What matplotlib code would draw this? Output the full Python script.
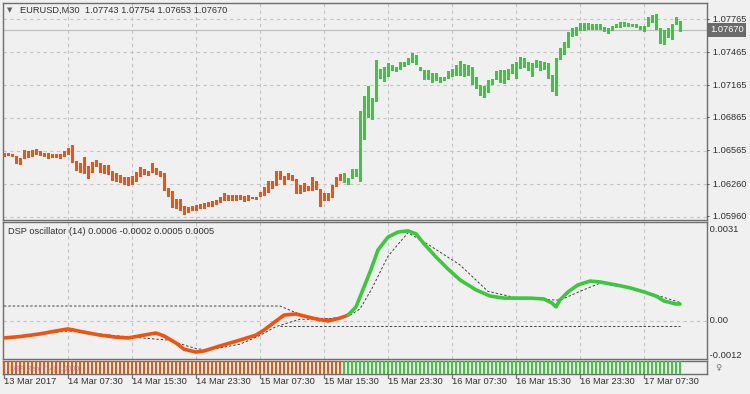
import matplotlib.pyplot as plt
import numpy as np

# EURUSD M30 bars, top/bottom of each painted bar (price)
bar_top = [1.06541, 1.06547, 1.06535, 1.06517, 1.06498, 1.06571, 1.06559, 1.06571, 1.06581, 1.06559,
           1.06547, 1.06541, 1.06535, 1.06535, 1.06535, 1.06565, 1.06590, 1.06617, 1.06471, 1.06450,
           1.06505, 1.06426, 1.06462, 1.06480, 1.06450, 1.06432, 1.06438, 1.06377, 1.06365, 1.06347,
           1.06328, 1.06322, 1.06334, 1.06371, 1.06413, 1.06395, 1.06383, 1.06456, 1.06407, 1.06377,
           1.06359, 1.06225, 1.06195, 1.06122, 1.06122, 1.06061, 1.06055, 1.06061, 1.06073, 1.06079,
           1.06091, 1.06097, 1.06110, 1.06116, 1.06140, 1.06176, 1.06158, 1.06158, 1.06158, 1.06158,
           1.06152, 1.06158, 1.06146, 1.06146, 1.06189, 1.06237, 1.06292, 1.06292, 1.06377, 1.06377,
           1.06334, 1.06359, 1.06347, 1.06304, 1.06255, 1.06268, 1.06243, 1.06322, 1.06286, 1.06219,
           1.06176, 1.06182, 1.06249, 1.06328, 1.06353, 1.06362, 1.06316, 1.06398, 1.06398, 1.06928,
           1.07065, 1.07156, 1.07046, 1.07393, 1.07311, 1.07329, 1.07366, 1.07348, 1.07329, 1.07375,
           1.07375, 1.07411, 1.07457, 1.07439, 1.07329, 1.07302, 1.07302, 1.07275, 1.07275, 1.07238,
           1.07238, 1.07293, 1.07311, 1.07348, 1.07384, 1.07357, 1.07348, 1.07329, 1.07238, 1.07165,
           1.07156, 1.07211, 1.07220, 1.07293, 1.07302, 1.07302, 1.07311, 1.07357, 1.07375, 1.07421,
           1.07411, 1.07375, 1.07366, 1.07393, 1.07384, 1.07375, 1.07366, 1.07256, 1.07411, 1.07503,
           1.07558, 1.07649, 1.07685, 1.07694, 1.07731, 1.07731, 1.07731, 1.07722, 1.07722, 1.07722,
           1.07694, 1.07685, 1.07704, 1.07722, 1.07740, 1.07740, 1.07731, 1.07722, 1.07722, 1.07704,
           1.07704, 1.07786, 1.07804, 1.07813, 1.07685, 1.07667, 1.07685, 1.07722, 1.07786, 1.07749]
bar_bot = [1.06511, 1.06517, 1.06505, 1.06444, 1.06438, 1.06492, 1.06498, 1.06505, 1.06523, 1.06517,
           1.06511, 1.06486, 1.06498, 1.06498, 1.06492, 1.06511, 1.06529, 1.06456, 1.06383, 1.06359,
           1.06353, 1.06310, 1.06365, 1.06413, 1.06365, 1.06353, 1.06341, 1.06292, 1.06280, 1.06274,
           1.06249, 1.06243, 1.06255, 1.06280, 1.06328, 1.06341, 1.06334, 1.06359, 1.06347, 1.06322,
           1.06195, 1.06146, 1.06043, 1.06030, 1.06012, 1.05982, 1.06000, 1.06012, 1.06018, 1.06030,
           1.06037, 1.06049, 1.06055, 1.06067, 1.06085, 1.06103, 1.06103, 1.06110, 1.06110, 1.06116,
           1.06097, 1.06110, 1.06122, 1.06116, 1.06140, 1.06152, 1.06182, 1.06213, 1.06243, 1.06298,
           1.06255, 1.06298, 1.06292, 1.06170, 1.06170, 1.06189, 1.06195, 1.06201, 1.06207, 1.06055,
           1.06110, 1.06110, 1.06134, 1.06231, 1.06292, 1.06270, 1.06252, 1.06307, 1.06325, 1.06279,
           1.06663, 1.06864, 1.06845, 1.07010, 1.07220, 1.07192, 1.07238, 1.07293, 1.07284, 1.07302,
           1.07329, 1.07348, 1.07366, 1.07348, 1.07293, 1.07211, 1.07211, 1.07183, 1.07201, 1.07183,
           1.07201, 1.07220, 1.07238, 1.07247, 1.07247, 1.07238, 1.07247, 1.07165, 1.07128, 1.07065,
           1.07046, 1.07092, 1.07165, 1.07211, 1.07183, 1.07174, 1.07211, 1.07265, 1.07220, 1.07311,
           1.07320, 1.07293, 1.07238, 1.07320, 1.07293, 1.07302, 1.07220, 1.07101, 1.07065, 1.07393,
           1.07439, 1.07503, 1.07603, 1.07612, 1.07658, 1.07658, 1.07667, 1.07667, 1.07667, 1.07667,
           1.07649, 1.07631, 1.07658, 1.07685, 1.07685, 1.07694, 1.07694, 1.07694, 1.07685, 1.07667,
           1.07649, 1.07694, 1.07731, 1.07667, 1.07539, 1.07530, 1.07594, 1.07576, 1.07713, 1.07649]
n_down = 85  # first bars drawn in the "down" colour

price_ticks = [1.07765, 1.07465, 1.07165, 1.06865, 1.06565, 1.06260, 1.05960]
last_price = 1.07670

time_labels = ['13 Mar 2017', '14 Mar 07:30', '14 Mar 15:30', '14 Mar 23:30', '15 Mar 07:30',
               '15 Mar 15:30', '15 Mar 23:30', '16 Mar 07:30', '16 Mar 15:30', '16 Mar 23:30',
               '17 Mar 07:30']
label_bars = [0, 16, 32, 48, 64, 80, 96, 112, 128, 144, 160]

# DSP oscillator, read at a few bars
osc_x = [0, 4, 9, 13, 16, 20, 24, 28, 31, 35, 38, 40, 43, 45, 48, 50, 54, 59, 63, 65, 68, 70, 73,
         75, 78, 81, 84, 86, 88, 89.5, 91.5, 93.5, 96, 98.5, 101, 103, 105, 108, 111, 114, 118,
         121.5, 125, 131.5, 135, 137, 138, 139, 141, 143.5, 146.5, 149, 153, 156.5, 160, 163, 165,
         168, 169]
osc_y = [-0.00059, -0.00054, -0.00045, -0.00035, -0.00028, -0.00039, -0.00049, -0.00056, -0.00059,
         -0.00049, -0.00042, -0.00052, -0.00076, -0.00097, -0.00107, -0.00103, -0.00086, -0.00066,
         -0.00049, -0.00032, -0.00001, 0.00019, 0.00023, 0.00016, 0.00006, -0.00001, 0.00009,
         0.00019, 0.00047, 0.00098, 0.00166, 0.00241, 0.00285, 0.00302, 0.00306, 0.00296, 0.00262,
         0.00217, 0.00176, 0.00139, 0.00105, 0.00084, 0.00077, 0.00077, 0.00074, 0.00060, 0.00047,
         0.00071, 0.00098, 0.00122, 0.00135, 0.00132, 0.00122, 0.00112, 0.00098, 0.00084, 0.00067,
         0.00057, 0.00057]
sig_x = [0, 16, 31, 41, 48, 51, 59, 64, 68, 74, 80, 86, 89, 92, 96, 101, 106, 114, 121, 129, 139, 144,
         149, 159, 169]
sig_y = [-0.00059, -0.00035, -0.00055, -0.00066, -0.00095, -0.00100, -0.00080, -0.00050, -0.00020,
         0.00005, 0.00005, 0.00015, 0.00040, 0.00110, 0.00220, 0.00300, 0.00260, 0.00190, 0.00100,
         0.00075, 0.00070, 0.00100, 0.00128, 0.00105, 0.00062]
up_lvl_x = [0, 69, 76, 84]
up_lvl_y = [0.00050, 0.00050, 0.00010, 0.00005]
lo_lvl_x = [69, 169]
lo_lvl_y = [-0.00018, -0.00018]
osc_ticks = [0.0031, 0.0, -0.0012]

bg = '#f0f0f0'
c_down = '#f2520f'
c_up = '#3cc83c'
grid_c = '#c4c4c4'
txt_c = '#303030'
frame_c = '#6e6e6e'
fs = 6.7

W, H = 750, 394
plt.rcParams['font.family'] = ['Liberation Sans', 'DejaVu Sans']
fig = plt.figure(figsize=(W / 100, H / 100), dpi=100, facecolor=bg)

def box(x0, y0, x1, y1):
    return [x0 / W, 1 - y1 / H, (x1 - x0) / W, (y1 - y0) / H]

ax = fig.add_axes(box(3, 3, 707, 220))
ax2 = fig.add_axes(box(3, 222, 707, 359))
ax3 = fig.add_axes(box(3, 361, 707, 374))

n = len(bar_top)
idx = np.arange(n)
cols = [c_down if i < n_down else c_up for i in idx]
xlim = (-0.25, 175.75)

for a in (ax, ax2, ax3):
    a.set_facecolor(bg)
    a.set_xlim(*xlim)
    for s in a.spines.values():
        s.set_color(frame_c)
        s.set_linewidth(1)
    a.tick_params(left=False, right=False, bottom=False, top=False,
                  labelleft=False, labelbottom=False)
    for b in label_bars[1:]:
        a.axvline(b, color=grid_c, lw=0.8, ls=(0, (3, 3)), zorder=0)

# price panel
heights = np.array(bar_top) - np.array(bar_bot)
ax.bar(idx, heights, bottom=bar_bot, width=0.75, color=cols, linewidth=0, zorder=3)
ax.set_ylim(1.05932, 1.07914)
for p in price_ticks:
    ax.axhline(p, color=grid_c, lw=0.8, ls=(0, (3, 3)), zorder=0)
    ax.text(1.0, p, '- ' + f'{p:.5f}', transform=ax.get_yaxis_transform(), ha='left', va='center',
            fontsize=fs, color=txt_c, clip_on=False)
ax.axhline(last_price, color='#c0c0c0', lw=0.9, zorder=1)
ax.text(1.004, last_price, f'{last_price:.5f}', transform=ax.get_yaxis_transform(), ha='left',
        va='center', fontsize=fs, color='white', clip_on=False,
        bbox=dict(boxstyle='square,pad=0.25', fc='#6a6a6a', ec='none'))
ax.text(0.006, 0.965, '\u25bc', transform=ax.transAxes, fontsize=5, color='#606060', va='center',
        family='DejaVu Sans')
ax.text(0.024, 0.965, 'EURUSD,M30  1.07743 1.07754 1.07653 1.07670', transform=ax.transAxes,
        fontsize=fs, color=txt_c, va='center')

# oscillator panel
ax2.set_ylim(-0.001305, 0.003363)
ax2.axhline(0.0, color=grid_c, lw=0.8, ls=(0, (3, 3)), zorder=0)
ax2.plot(up_lvl_x, up_lvl_y, color='#404040', lw=0.7, ls=(0, (2.5, 2)), zorder=2)
ax2.plot(lo_lvl_x, lo_lvl_y, color='#404040', lw=0.7, ls=(0, (2.5, 2)), zorder=2)
ax2.plot(sig_x, sig_y, color='#404040', lw=0.7, ls=(0, (2.5, 2)), zorder=2)
osc_x = np.array(osc_x)
osc_y = np.array(osc_y)
cut = np.searchsorted(osc_x, n_down - 1, side='right')
ax2.plot(osc_x[:cut + 1], osc_y[:cut + 1], color=c_down, lw=2.6, solid_capstyle='round',
         solid_joinstyle='round', zorder=3)
ax2.plot(osc_x[cut:], osc_y[cut:], color=c_up, lw=2.6, solid_capstyle='round',
         solid_joinstyle='round', zorder=3)
for v in osc_ticks:
    ax2.text(1.0, v, f' {v:.4f}' if v != 0 else ' 0.00', transform=ax2.get_yaxis_transform(),
             ha='left', va='center', fontsize=fs, color=txt_c, clip_on=False)
ax2.text(0.007, 0.93, 'DSP oscillator (14) 0.0006 -0.0002 0.0005 0.0005', transform=ax2.transAxes,
         fontsize=fs, color=txt_c, va='center')

# state strip
ax3.set_ylim(0, 1)
ax3.bar(idx, np.ones(n), width=0.7, color=cols, linewidth=0, zorder=3)
ax3.text(0.01, 0.35, 'DSP Rem (14) 1.0000', transform=ax3.transAxes, fontsize=5, color='#b06a6a',
         va='center', zorder=4, alpha=0.8)
ax3.text(1.012, 0.5, '\u2640', transform=ax3.transAxes, fontsize=6, color='#707070',
         va='center', ha='left', family='DejaVu Sans', clip_on=False)

# time axis
for b, lab in zip(label_bars, time_labels):
    x_fig = (3 + (b - xlim[0]) / (xlim[1] - xlim[0]) * 704) / W
    fig.text(x_fig, 1 - 382 / H, lab, fontsize=fs, color=txt_c, ha='left', va='center')
    fig.add_artist(plt.Line2D([x_fig, x_fig], [1 - 374 / H, 1 - 378 / H], color=frame_c, lw=0.8))

fig.savefig('out.png', dpi=100, facecolor=bg)
